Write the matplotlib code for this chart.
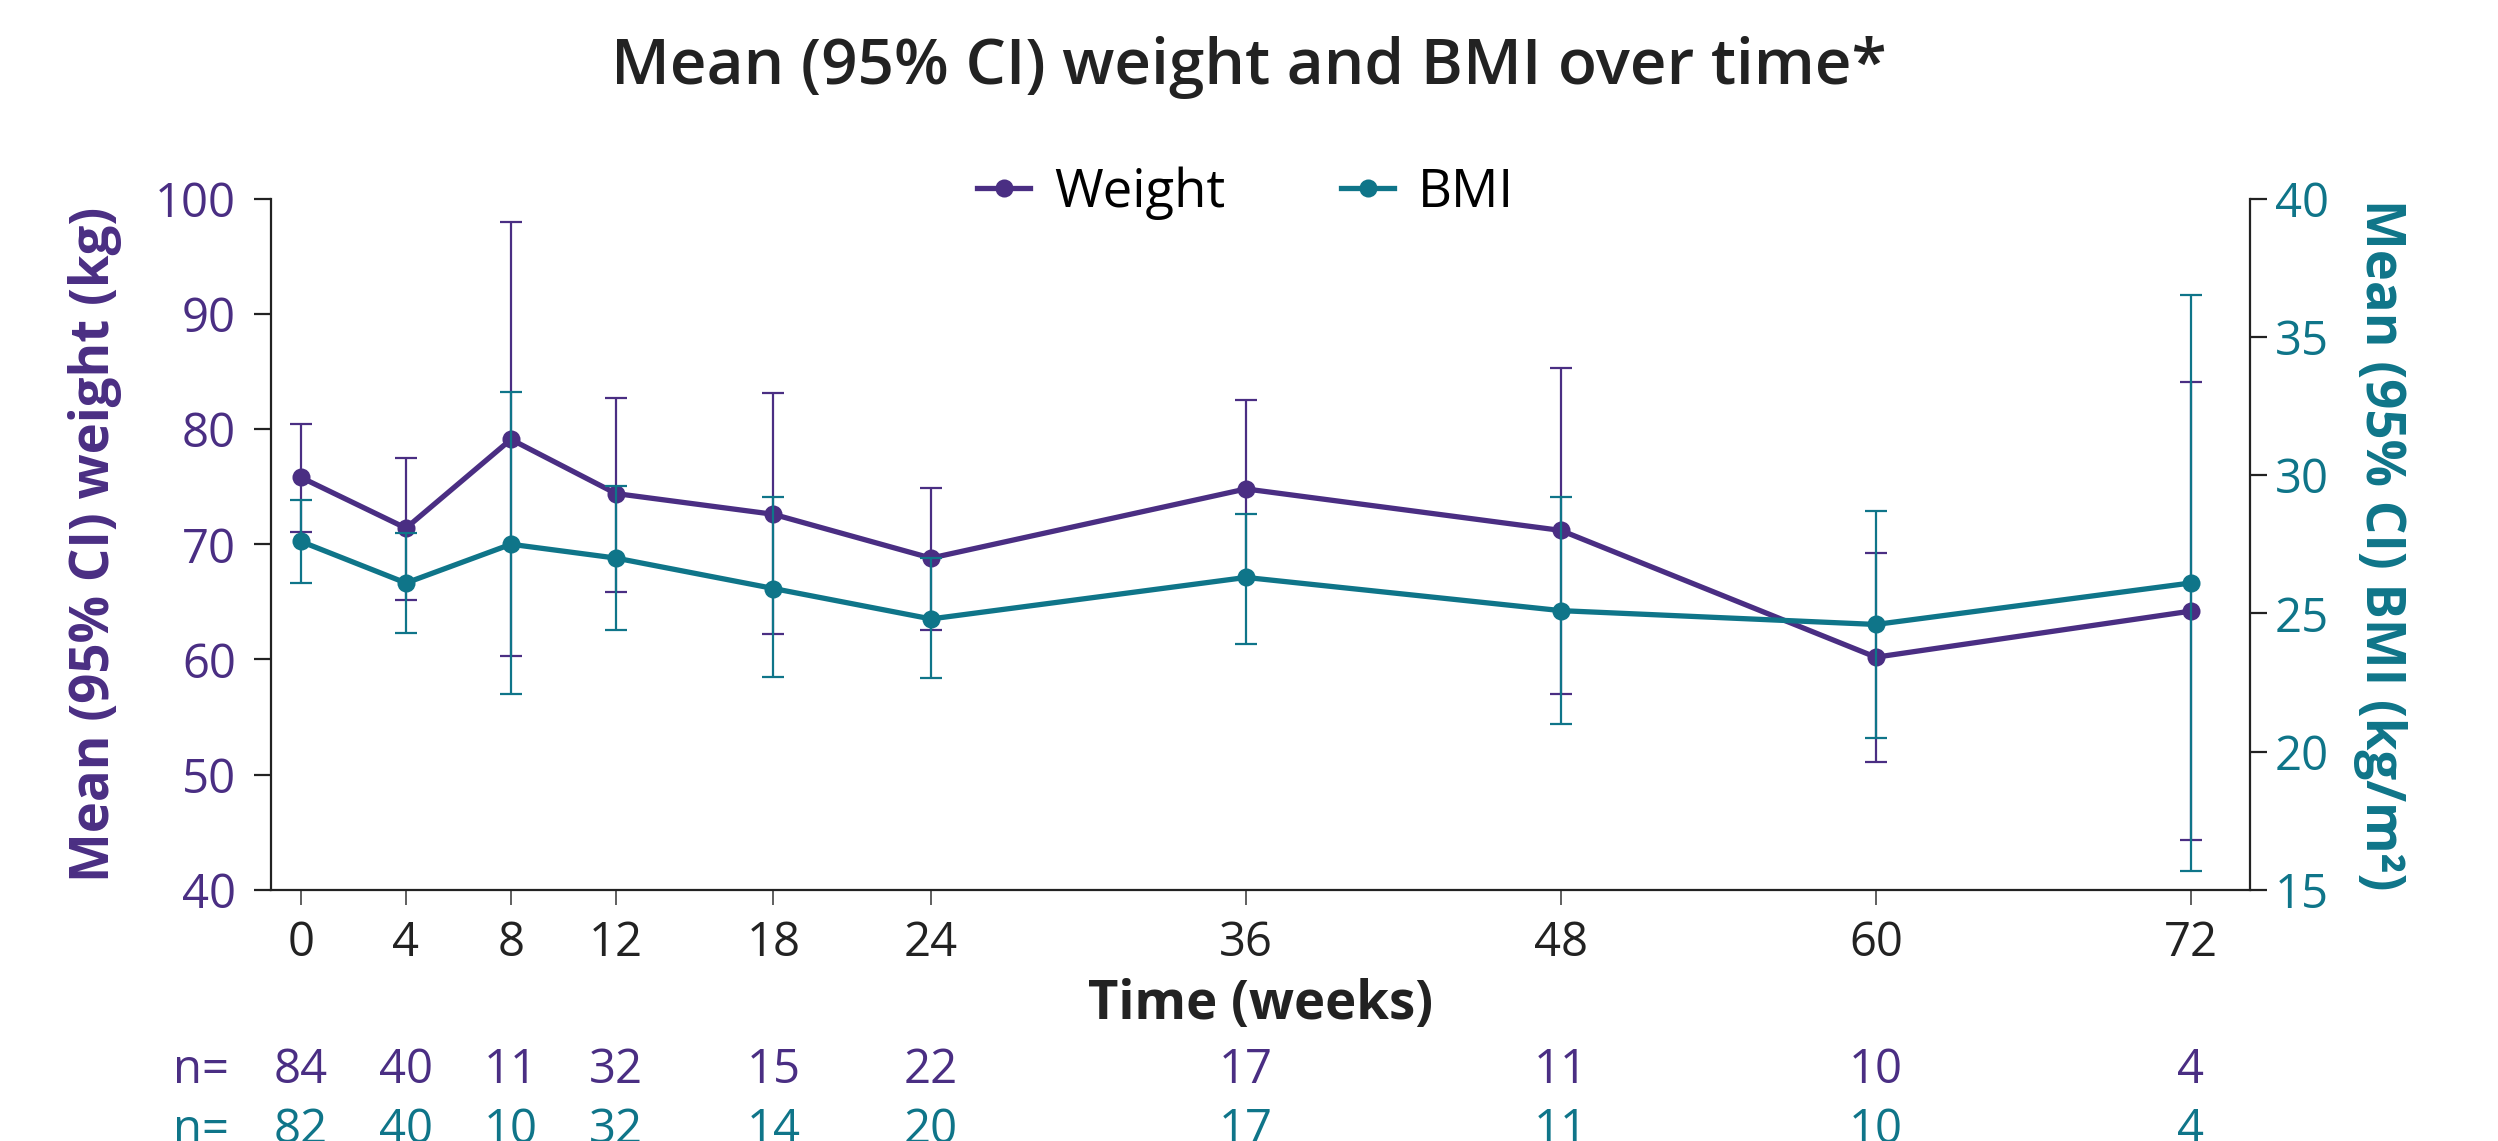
import matplotlib
matplotlib.use('Agg')
import matplotlib.pyplot as plt
import matplotlib.transforms as mtransforms
from matplotlib.lines import Line2D

plt.rcParams['font.family'] = ['Open Sans', 'DejaVu Sans']

weeks = [0, 4, 8, 12, 18, 24, 36, 48, 60, 72]

weight = [75.8, 71.4, 79.1, 74.4, 72.6, 68.8, 74.8, 71.2, 60.2, 64.2]
weight_lo = [71.1, 65.2, 60.3, 65.9, 62.2, 62.6, 67.1, 57.0, 51.1, 44.3]
weight_hi = [80.4, 77.5, 98.0, 82.7, 83.1, 74.9, 82.5, 85.3, 69.2, 84.1]

bmi = [27.6, 26.1, 27.5, 27.0, 25.9, 24.8, 26.3, 25.1, 24.6, 26.1]
bmi_lo = [26.1, 24.3, 22.1, 24.4, 22.7, 22.65, 23.9, 21.0, 20.5, 15.7]
bmi_hi = [29.1, 27.9, 33.0, 29.6, 29.2, 27.0, 28.6, 29.2, 28.7, 36.5]

n_weight = [84, 40, 11, 32, 15, 22, 17, 11, 10, 4]
n_bmi = [82, 40, 10, 32, 14, 20, 17, 11, 10, 4]

purple = '#4a2e83'
teal = '#0f7589'
dark = '#222222'

fig = plt.figure(figsize=(12.49, 5.705), dpi=200)
ax = fig.add_axes([0.1084, 0.22, 0.7923, 0.606])
ax2 = ax.twinx()

w_err = [[m - lo for m, lo in zip(weight, weight_lo)],
         [hi - m for m, hi in zip(weight, weight_hi)]]
b_err = [[m - lo for m, lo in zip(bmi, bmi_lo)],
         [hi - m for m, hi in zip(bmi, bmi_hi)]]

ax.errorbar(weeks, weight, yerr=w_err, color=purple, lw=1.9, marker='o', ms=5.5,
            elinewidth=0.8, capsize=4, capthick=0.8)
ax2.errorbar(weeks, bmi, yerr=b_err, color=teal, lw=1.9, marker='o', ms=5.5,
             elinewidth=0.8, capsize=4, capthick=0.8)

ax.set_xlim(-1.15, 74.25)
ax.set_ylim(40, 100)
ax2.set_ylim(15, 40)
ax.set_xticks(weeks)
ax.set_yticks(range(40, 101, 10))
ax2.set_yticks(range(15, 41, 5))

for a in (ax, ax2):
    a.spines['top'].set_visible(False)
    for s in a.spines.values():
        s.set_color(dark)
        s.set_linewidth(0.8)
ax2.spines['left'].set_visible(False)
ax2.spines['bottom'].set_visible(False)
ax.spines['right'].set_visible(False)

ax.tick_params(axis='x', length=5.5, width=0.6, color='#444444', labelsize=17,
               labelcolor=dark, pad=5)
ax.tick_params(axis='y', length=6, width=0.8, color=dark, labelsize=17,
               labelcolor=purple, pad=6.5)
ax2.tick_params(axis='y', length=6, width=0.8, color=dark, labelsize=17,
                labelcolor=teal, pad=3)

ax.set_ylabel('Mean (95% CI) weight (kg)', color=purple, fontsize=19,
              fontweight='bold', labelpad=12)
ax2.set_ylabel('Mean (95% CI) BMI (kg/m²)', color=teal, fontsize=19,
               fontweight='bold', rotation=270, labelpad=28)
ax.set_xlabel('Time (weeks)', color=dark, fontsize=19, fontweight='bold', labelpad=4)

fig.suptitle('Mean (95% CI) weight and BMI over time*', fontsize=23,
             fontweight='semibold', color=dark, y=0.941, va='center')

handles = [Line2D([], [], color=purple, lw=1.9, marker='o', ms=5.5),
           Line2D([], [], color=teal, lw=1.9, marker='o', ms=5.5)]
fig.legend(handles, ['Weight', 'BMI'], loc='center', bbox_to_anchor=(0.4986, 0.831),
           ncol=2, frameon=False, fontsize=19, handlelength=1.0, handletextpad=0.45,
           columnspacing=2.2)

trans = mtransforms.blended_transform_factory(ax.transData, fig.transFigure)
fig.text(0.0805, 0.0622, 'n=', color=purple, fontsize=17, ha='center', va='center')
fig.text(0.0805, 0.0096, 'n=', color=teal, fontsize=17, ha='center', va='center')
for wk, n1, n2 in zip(weeks, n_weight, n_bmi):
    ax.text(wk, 0.0622, str(n1), transform=trans, color=purple, fontsize=17,
            ha='center', va='center')
    ax.text(wk, 0.0096, str(n2), transform=trans, color=teal, fontsize=17,
            ha='center', va='center')

fig.savefig('out.png', dpi=200)
